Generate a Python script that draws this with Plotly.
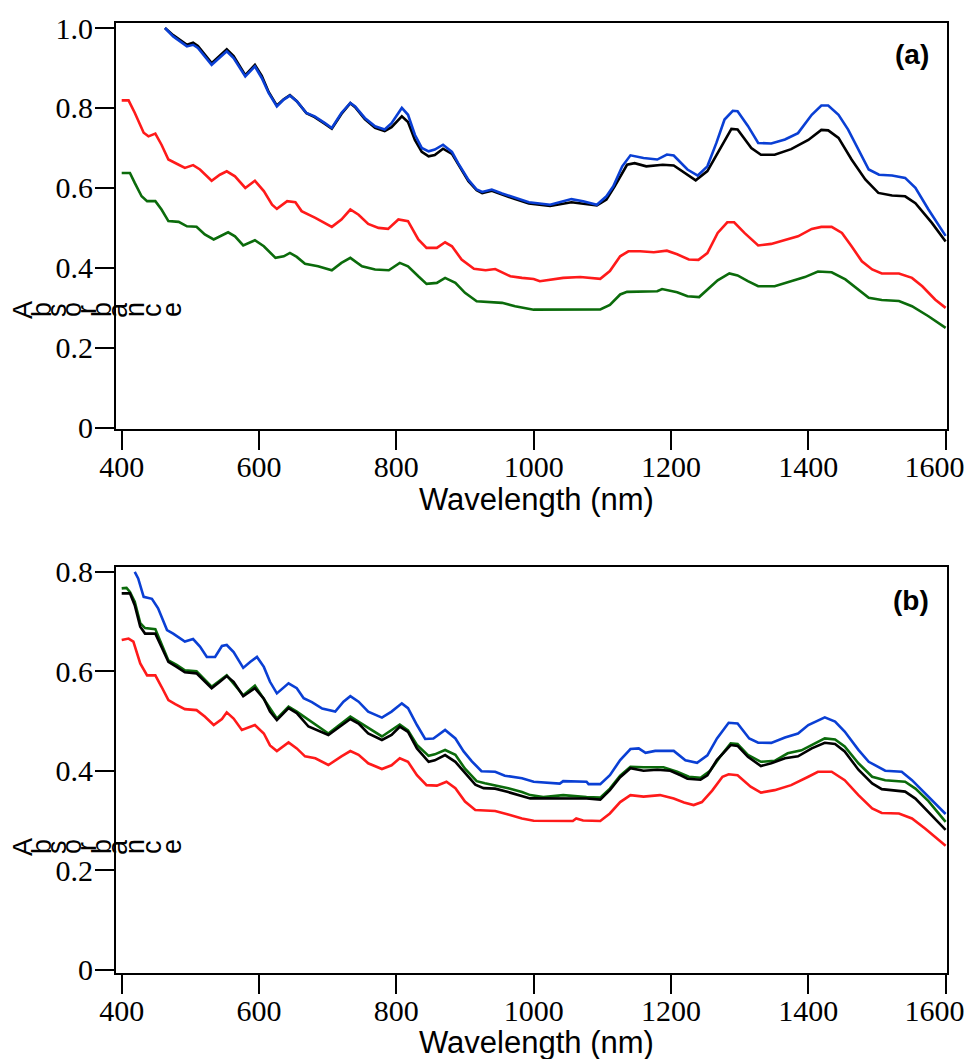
import plotly.graph_objects as go

# ---------------- Panel (a) data ----------------
wl_a_blue = [463, 475, 495, 504, 511, 531, 553, 563, 580, 594, 604, 614, 626, 636, 645, 655, 669, 681, 696, 706,
             720, 733, 740, 754, 769, 783, 793, 808, 817, 827, 837, 847, 856, 868, 881, 890, 905, 917, 925, 939,
             954, 973, 993, 1024, 1055, 1072, 1092, 1106, 1116, 1129, 1141, 1160, 1180, 1194, 1204, 1224, 1239,
             1253, 1266, 1278, 1290, 1297, 1312, 1327, 1346, 1366, 1385, 1405, 1419, 1429, 1444, 1458, 1473,
             1488, 1503, 1522, 1541, 1556, 1575, 1600]
abs_a_blue = [1.0, 0.979, 0.954, 0.958, 0.95, 0.908, 0.9415, 0.925, 0.879, 0.904, 0.875, 0.8375, 0.804, 0.821,
              0.831, 0.817, 0.7875, 0.779, 0.762, 0.75, 0.7875, 0.8125, 0.804, 0.775, 0.754, 0.746, 0.762, 0.80,
              0.783, 0.733, 0.70, 0.6915, 0.696, 0.708, 0.69, 0.662, 0.62, 0.596, 0.59, 0.596, 0.586, 0.575, 0.564,
              0.558, 0.572, 0.5665, 0.558, 0.579, 0.604, 0.654, 0.6815, 0.675, 0.671, 0.6835, 0.681, 0.646, 0.631,
              0.654, 0.712, 0.771, 0.793, 0.792, 0.755, 0.7125, 0.711, 0.721, 0.737, 0.783, 0.806, 0.806, 0.783,
              0.746, 0.696, 0.646, 0.633, 0.631, 0.625, 0.60, 0.546, 0.48]

wl_a_black = [463, 475, 495, 504, 511, 531, 553, 563, 580, 594, 604, 614, 626, 636, 645, 655, 669, 681, 696, 706,
              720, 733, 740, 754, 769, 783, 793, 808, 817, 827, 837, 847, 856, 868, 881, 890, 905, 917, 925, 939,
              954, 973, 993, 1024, 1055, 1092, 1106, 1118, 1136, 1147, 1164, 1188, 1204, 1224, 1236, 1253, 1273,
              1288, 1297, 1317, 1331, 1351, 1375, 1400, 1419, 1429, 1444, 1463, 1483, 1502, 1522, 1541, 1556,
              1580, 1600]
abs_a_black = [1.0, 0.982, 0.958, 0.963, 0.955, 0.912, 0.947, 0.93, 0.882, 0.908, 0.88, 0.84, 0.806, 0.822, 0.832,
               0.817, 0.787, 0.777, 0.76, 0.748, 0.785, 0.812, 0.802, 0.772, 0.75, 0.742, 0.752, 0.779, 0.765, 0.72,
               0.69, 0.679, 0.682, 0.698, 0.685, 0.66, 0.617, 0.594, 0.587, 0.593, 0.583, 0.572, 0.561, 0.555,
               0.564, 0.556, 0.571, 0.604, 0.658, 0.662, 0.654, 0.658, 0.656, 0.633, 0.619, 0.642, 0.704, 0.7475,
               0.746, 0.70, 0.683, 0.683, 0.697, 0.72, 0.745, 0.744, 0.725, 0.671, 0.621, 0.5875, 0.581, 0.579,
               0.562, 0.5125, 0.466]

wl_a_red = [400, 410, 419, 432, 439, 449, 458, 468, 483, 492, 504, 514, 531, 543, 553, 565, 580, 594, 607, 619,
            626, 641, 653, 662, 682, 706, 720, 733, 745, 759, 774, 788, 803, 817, 832, 844, 859, 871, 881, 895,
            913, 930, 944, 954, 966, 983, 1000, 1009, 1024, 1043, 1068, 1097, 1111, 1126, 1138, 1155, 1175, 1194,
            1209, 1226, 1240, 1253, 1268, 1282, 1292, 1307, 1327, 1346, 1366, 1385, 1405, 1419, 1434, 1449, 1463,
            1478, 1493, 1507, 1532, 1551, 1566, 1585, 1600]
abs_a_red = [0.819, 0.819, 0.788, 0.738, 0.729, 0.736, 0.708, 0.671, 0.658, 0.65, 0.657, 0.646, 0.618, 0.633,
             0.6415, 0.629, 0.60, 0.618, 0.592, 0.558, 0.5475, 0.567, 0.564, 0.542, 0.525, 0.5025, 0.521, 0.546,
             0.533, 0.51, 0.50, 0.4975, 0.521, 0.517, 0.471, 0.45, 0.45, 0.464, 0.454, 0.421, 0.398, 0.394, 0.397,
             0.389, 0.379, 0.375, 0.372, 0.3665, 0.371, 0.375, 0.377, 0.3725, 0.392, 0.429, 0.4415, 0.4415, 0.439,
             0.443, 0.434, 0.421, 0.42, 0.437, 0.4875, 0.514, 0.514, 0.4875, 0.456, 0.46, 0.47, 0.479, 0.4975,
             0.5025, 0.5025, 0.4875, 0.454, 0.4165, 0.396, 0.386, 0.386, 0.375, 0.354, 0.3205, 0.30]

wl_a_green = [400, 412, 419, 429, 437, 449, 458, 468, 483, 495, 509, 521, 534, 546, 555, 565, 577, 594, 607, 624,
              636, 645, 655, 667, 686, 706, 720, 733, 750, 769, 789, 805, 817, 832, 844, 859, 871, 886, 900, 917,
              934, 954, 973, 1000, 1097, 1111, 1126, 1136, 1180, 1187, 1209, 1224, 1241, 1253, 1268, 1285, 1297,
              1312, 1327, 1351, 1370, 1395, 1414, 1434, 1454, 1473, 1488, 1507, 1532, 1551, 1575, 1600]
abs_a_green = [0.6375, 0.6375, 0.6125, 0.579, 0.567, 0.567, 0.546, 0.517, 0.515, 0.504, 0.503, 0.4835, 0.471,
               0.481, 0.489, 0.479, 0.456, 0.469, 0.454, 0.425, 0.429, 0.4375, 0.4275, 0.4105, 0.404, 0.394, 0.4125,
               0.425, 0.404, 0.396, 0.394, 0.4125, 0.404, 0.379, 0.36, 0.3625, 0.375, 0.3625, 0.3375, 0.3165, 0.314,
               0.3125, 0.304, 0.2955, 0.296, 0.3075, 0.3335, 0.34, 0.3415, 0.347, 0.339, 0.329, 0.327, 0.346, 0.369,
               0.386, 0.381, 0.367, 0.354, 0.354, 0.364, 0.377, 0.391, 0.389, 0.371, 0.346, 0.325, 0.3195, 0.317,
               0.304, 0.279, 0.25]

# ---------------- Panel (b) data ----------------
wl_b_blue = [419, 424, 432, 444, 453, 466, 475, 492, 504, 514, 524, 536, 546, 553, 563, 577, 587, 597, 607, 616,
             626, 643, 655, 665, 677, 692, 711, 723, 733, 745, 759, 779, 793, 808, 817, 830, 842, 854, 871, 886,
             898, 910, 924, 944, 958, 983, 1000, 1038, 1043, 1077, 1080, 1097, 1111, 1126, 1141, 1153, 1163, 1177,
             1204, 1221, 1238, 1253, 1267, 1284, 1297, 1314, 1327, 1346, 1366, 1385, 1400, 1424, 1439, 1453, 1473,
             1488, 1512, 1536, 1551, 1570, 1600]
abs_b_blue = [0.80, 0.787, 0.75, 0.746, 0.727, 0.683, 0.676, 0.66, 0.665, 0.65, 0.629, 0.629, 0.651, 0.653, 0.639,
              0.607, 0.619, 0.629, 0.609, 0.579, 0.5557, 0.576, 0.566, 0.546, 0.538, 0.525, 0.519, 0.539, 0.55,
              0.539, 0.519, 0.507, 0.519, 0.5356, 0.526, 0.492, 0.464, 0.465, 0.482, 0.465, 0.439, 0.419, 0.399,
              0.398, 0.39, 0.385, 0.378, 0.374, 0.379, 0.378, 0.373, 0.373, 0.391, 0.4215, 0.4437, 0.445, 0.436,
              0.44, 0.44, 0.421, 0.416, 0.431, 0.465, 0.4966, 0.495, 0.465, 0.4564, 0.456, 0.467, 0.475, 0.492,
              0.5074, 0.499, 0.479, 0.442, 0.418, 0.40, 0.398, 0.381, 0.354, 0.313]

wl_b_green = [400, 407, 412, 419, 427, 434, 449, 458, 468, 480, 492, 509, 521, 531, 553, 577, 594, 626, 643, 655,
              701, 733, 779, 805, 817, 830, 847, 856, 871, 886, 900, 917, 929, 944, 963, 983, 995, 1014, 1043, 1077,
              1097, 1111, 1126, 1141, 1160, 1189, 1209, 1226, 1243, 1257, 1272, 1287, 1297, 1312, 1331, 1351, 1370,
              1390, 1410, 1424, 1439, 1453, 1473, 1493, 1512, 1541, 1556, 1575, 1600]
abs_b_green = [0.767, 0.768, 0.76, 0.74, 0.697, 0.687, 0.685, 0.656, 0.622, 0.613, 0.602, 0.60, 0.583, 0.569,
               0.592, 0.552, 0.571, 0.505, 0.529, 0.519, 0.475, 0.509, 0.469, 0.493, 0.481, 0.452, 0.43, 0.433,
               0.4417, 0.432, 0.404, 0.379, 0.375, 0.371, 0.365, 0.357, 0.351, 0.347, 0.351, 0.347, 0.346, 0.364,
               0.39, 0.408, 0.407, 0.407, 0.398, 0.388, 0.386, 0.40, 0.429, 0.455, 0.454, 0.432, 0.418, 0.42, 0.435,
               0.441, 0.456, 0.465, 0.463, 0.449, 0.415, 0.388, 0.381, 0.378, 0.364, 0.339, 0.297]

wl_b_black = [400, 412, 419, 427, 434, 449, 458, 468, 480, 492, 509, 521, 531, 543, 553, 563, 577, 594, 607, 616,
              626, 643, 655, 672, 701, 714, 733, 745, 759, 779, 793, 805, 817, 830, 847, 856, 871, 886, 900, 915,
              927, 944, 963, 983, 995, 1077, 1097, 1111, 1126, 1141, 1160, 1180, 1199, 1214, 1224, 1243, 1253,
              1267, 1287, 1297, 1312, 1331, 1346, 1366, 1385, 1405, 1424, 1439, 1453, 1473, 1493, 1507, 1541,
              1556, 1575, 1600]
abs_b_black = [0.757, 0.757, 0.733, 0.69, 0.676, 0.676, 0.649, 0.619, 0.609, 0.598, 0.596, 0.579, 0.566, 0.579,
               0.5905, 0.579, 0.55, 0.566, 0.545, 0.519, 0.502, 0.526, 0.516, 0.489, 0.472, 0.485, 0.504, 0.495,
               0.475, 0.462, 0.472, 0.4886, 0.478, 0.445, 0.418, 0.421, 0.4316, 0.418, 0.395, 0.372, 0.365, 0.364,
               0.357, 0.349, 0.3444, 0.344, 0.342, 0.361, 0.387, 0.405, 0.40, 0.402, 0.40, 0.391, 0.384, 0.382,
               0.391, 0.422, 0.4517, 0.45, 0.428, 0.4095, 0.415, 0.425, 0.429, 0.445, 0.4564, 0.454, 0.439, 0.402,
               0.3745, 0.363, 0.358, 0.344, 0.317, 0.281]

wl_b_red = [400, 410, 417, 427, 437, 449, 458, 468, 478, 492, 509, 521, 534, 546, 553, 563, 575, 594, 607, 616,
            626, 643, 655, 667, 682, 701, 720, 733, 745, 759, 779, 793, 805, 817, 830, 844, 859, 873, 886, 900,
            915, 944, 963, 983, 1000, 1057, 1062, 1072, 1097, 1111, 1126, 1141, 1160, 1184, 1204, 1219, 1233,
            1245, 1260, 1275, 1284, 1297, 1316, 1331, 1351, 1375, 1400, 1414, 1434, 1453, 1473, 1493, 1507, 1532,
            1551, 1570, 1600]
abs_b_red = [0.663, 0.666, 0.66, 0.616, 0.592, 0.592, 0.569, 0.542, 0.534, 0.524, 0.522, 0.509, 0.492, 0.504,
             0.5175, 0.505, 0.482, 0.492, 0.475, 0.451, 0.4396, 0.457, 0.445, 0.429, 0.425, 0.4115, 0.429, 0.4396,
             0.432, 0.415, 0.4034, 0.411, 0.425, 0.418, 0.391, 0.371, 0.37, 0.378, 0.365, 0.338, 0.321, 0.319,
             0.312, 0.304, 0.2994, 0.299, 0.304, 0.30, 0.299, 0.314, 0.337, 0.351, 0.348, 0.351, 0.344, 0.336,
             0.331, 0.337, 0.36, 0.388, 0.393, 0.391, 0.368, 0.356, 0.361, 0.371, 0.388, 0.398, 0.398, 0.381,
             0.351, 0.324, 0.315, 0.314, 0.304, 0.284, 0.249]

x_ticks = [400, 600, 800, 1000, 1200, 1400, 1600]
x_ticklabels = ["400", "600", "800", "1000", "1200", "1400", "1600"]
y_ticks_a = [0, 0.2, 0.4, 0.6, 0.8, 1.0]
y_ticklabels_a = ["0", "0.2", "0.4", "0.6", "0.8", "1.0"]
y_ticks_b = [0, 0.2, 0.4, 0.6, 0.8]
y_ticklabels_b = ["0", "0.2", "0.4", "0.6", "0.8"]
x_title = "Wavelength (nm)"
y_title = "Absorbance"
panel_labels = ["(a)", "(b)"]

BLUE = "#0a3fd4"
RED = "#ff1a1a"
GREEN = "#0b6b0b"
BLACK = "#000000"
LW = 2.6

# page body has an 8px default margin; figure is sized/offset to compensate
OFF = 8
W, H = 973 - OFF, 1059 - OFF
ML, MR, MT, MB = 116 - OFF, 26, 23 - OFF, 86
PW, PH = W - ML - MR, H - MT - MB


def px_to_paper_x(px):
    return (px - OFF - ML) / PW


def px_to_paper_y(py):
    return (OFF + H - MB - py) / PH


fig = go.Figure()

# panel (a)
for wl, ab, col in [(wl_a_green, abs_a_green, GREEN), (wl_a_red, abs_a_red, RED),
                    (wl_a_black, abs_a_black, BLACK), (wl_a_blue, abs_a_blue, BLUE)]:
    fig.add_trace(go.Scatter(x=wl, y=ab, mode="lines", line=dict(color=col, width=LW),
                             xaxis="x", yaxis="y", showlegend=False, hoverinfo="x+y"))
# panel (b)
for wl, ab, col in [(wl_b_red, abs_b_red, RED), (wl_b_blue, abs_b_blue, BLUE),
                    (wl_b_green, abs_b_green, GREEN), (wl_b_black, abs_b_black, BLACK)]:
    fig.add_trace(go.Scatter(x=wl, y=ab, mode="lines", line=dict(color=col, width=LW),
                             xaxis="x2", yaxis="y2", showlegend=False, hoverinfo="x+y"))

# the last label sits slightly left of its tick in the reference (padding with no-break spaces)
x_ticktext = x_ticklabels[:-1] + [x_ticklabels[-1] + "\u00a0\u00a0\u00a0"]

tickfont = dict(family="Liberation Serif, Times New Roman, serif", size=30, color="black")
xcommon = dict(range=[391.7, 1602], tickmode="array", tickvals=x_ticks, ticktext=x_ticktext, ticks="outside",
               ticklen=19, tickwidth=2, tickcolor="black", showline=True, linecolor="black", linewidth=2,
               mirror=True, showgrid=False, zeroline=False, tickfont=tickfont, ticklabelstandoff=-9,
               ticklabeloverflow="allow", automargin=False)
ycommon = dict(tickmode="array", ticks="outside", ticklen=19, tickwidth=2, tickcolor="black",
               showline=True, linecolor="black", linewidth=2, mirror=True, showgrid=False, zeroline=False,
               tickfont=tickfont, ticklabelstandoff=-4, automargin=False)

top_a, bot_a = 23, 429
top_b, bot_b = 567, 973

fig.update_layout(
    width=W, height=H,
    margin=dict(l=ML, r=MR, t=MT, b=MB, autoexpand=False),
    paper_bgcolor="white", plot_bgcolor="white",
    xaxis=dict(**xcommon, anchor="y", domain=[0, 1]),
    yaxis=dict(**ycommon, anchor="x", range=[-0.003, 1.0125], tickvals=y_ticks_a, ticktext=y_ticklabels_a,
               domain=[px_to_paper_y(bot_a), px_to_paper_y(top_a)]),
    xaxis2=dict(**xcommon, anchor="y2", domain=[0, 1]),
    yaxis2=dict(**ycommon, anchor="x2", range=[-0.007, 0.81], tickvals=y_ticks_b, ticktext=y_ticklabels_b,
                domain=[px_to_paper_y(bot_b), px_to_paper_y(top_b)]),
)

annotations = []
sans = "Liberation Sans, Arial, sans-serif"
# x axis titles
for ypx in [499, 1042]:
    annotations.append(dict(text=x_title, xref="paper", yref="paper", x=px_to_paper_x(536), y=px_to_paper_y(ypx),
                            xanchor="center", yanchor="middle", showarrow=False,
                            font=dict(family=sans, size=31, color="black")))
# panel labels
for lab, ypx in zip(panel_labels, [55, 600]):
    annotations.append(dict(text="<b>" + lab + "</b>", xref="paper", yref="paper", x=px_to_paper_x(931),
                            y=px_to_paper_y(ypx), xanchor="right", yanchor="middle", showarrow=False,
                            font=dict(family=sans, size=28, color="black")))
# y axis titles (letters individually rotated, as in the reference)
letter_x = [23, 42, 57, 72, 87, 102, 118, 135, 152, 172]
for ypx in [310, 847]:
    for ch, xp in zip(y_title, letter_x):
        annotations.append(dict(text=ch, xref="paper", yref="paper", x=px_to_paper_x(xp), y=px_to_paper_y(ypx),
                                xanchor="center", yanchor="middle", showarrow=False, textangle=-90,
                                font=dict(family=sans, size=27, color="black")))
fig.update_layout(annotations=annotations)

fig.write_html("out.html")
